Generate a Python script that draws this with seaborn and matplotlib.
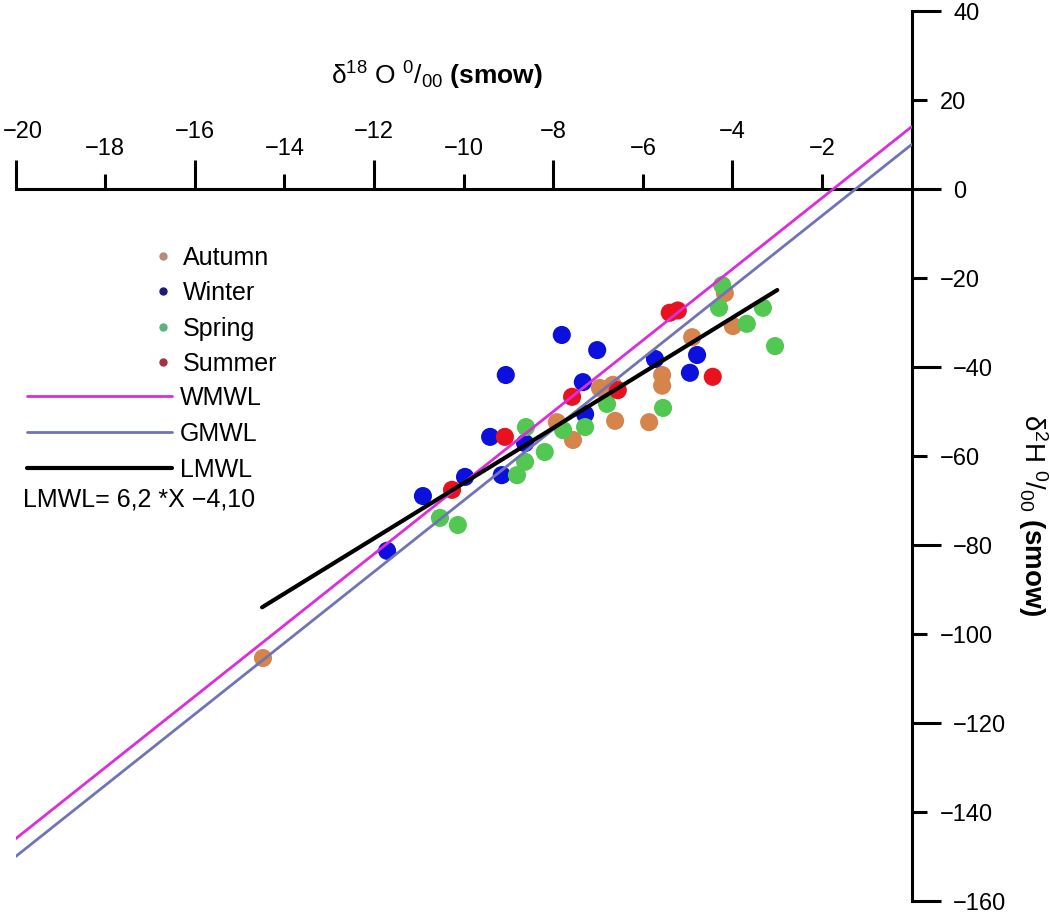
import matplotlib
matplotlib.use("Agg")
import matplotlib.pyplot as plt
from matplotlib.lines import Line2D
from matplotlib.ticker import FixedLocator, FuncFormatter
from matplotlib.transforms import ScaledTranslation
import pandas as pd
import seaborn as sns

sns.set_theme(style="white")
plt.rcParams["font.family"] = ["Liberation Sans", "DejaVu Sans"]
plt.rcParams["mathtext.fontset"] = "custom"
plt.rcParams["mathtext.rm"] = "Liberation Sans"
plt.rcParams["mathtext.it"] = "Liberation Sans:italic"
plt.rcParams["mathtext.bf"] = "Liberation Sans:bold"
for key in ["text.color", "axes.labelcolor", "xtick.color", "ytick.color"]:
    plt.rcParams[key] = "black"

# d18O / d2H values per season
autumn_x = [-4.17, -3.99, -4.90, -5.57, -5.57, -5.86, -6.96, -6.67, -6.62, -7.92, -7.56, -14.48]
autumn_y = [-23.4, -30.8, -33.3, -41.8, -44.2, -52.4, -44.7, -44.0, -52.1, -52.4, -56.4, -105.4]

winter_x = [-7.81, -7.02, -9.06, -7.34, -5.73, -4.79, -4.95, -7.29, -9.41, -9.15, -9.97, -10.91, -11.71, -8.63]
winter_y = [-32.8, -36.2, -41.8, -43.4, -38.2, -37.3, -41.3, -50.6, -55.7, -64.3, -64.7, -69.0, -81.3, -57.1]

spring_x = [-4.23, -4.30, -3.32, -3.68, -3.05, -5.55, -6.80, -7.29, -7.78, -8.61, -8.19, -8.63, -8.81, -10.53, -10.13]
spring_y = [-21.6, -26.7, -26.7, -30.3, -35.3, -49.2, -48.3, -53.5, -54.2, -53.5, -59.1, -61.3, -64.3, -73.9, -75.5]

summer_x = [-5.40, -5.22, -4.44, -6.56, -7.58, -9.08, -10.26]
summer_y = [-27.8, -27.3, -42.2, -45.2, -46.7, -55.7, -67.6]

# meteoric water lines (end points)
wmwl_x = [-20, 0]
wmwl_y = [-146, 14]
gmwl_x = [-20, 0]
gmwl_y = [-150, 10]
lmwl_x = [-14.5, -3.0]
lmwl_y = [-94.0, -22.7]

seasons = ["Autumn", "Winter", "Spring", "Summer"]
point_colors = {"Autumn": "#D5844C", "Winter": "#0C10DC", "Spring": "#52C852", "Summer": "#E8121E"}
legend_colors = {"Autumn": "#B88A78", "Winter": "#1C1C78", "Spring": "#5CB27A", "Summer": "#A83040"}

df = pd.concat([
    pd.DataFrame({"d18O": autumn_x, "d2H": autumn_y, "season": "Autumn"}),
    pd.DataFrame({"d18O": winter_x, "d2H": winter_y, "season": "Winter"}),
    pd.DataFrame({"d18O": spring_x, "d2H": spring_y, "season": "Spring"}),
    pd.DataFrame({"d18O": summer_x, "d2H": summer_y, "season": "Summer"}),
], ignore_index=True)

fig = plt.figure(figsize=(10.5, 9.13), dpi=100)
ax = fig.add_axes([0.01495, 0.01314, 0.8533, 0.9748])

sns.scatterplot(data=df, x="d18O", y="d2H", hue="season", palette=point_colors,
                s=170, edgecolor="none", legend=False, ax=ax, zorder=2)

ax.plot(wmwl_x, wmwl_y, color="#DC2CDC", lw=2.0, zorder=3)
ax.plot(gmwl_x, gmwl_y, color="#7074B6", lw=2.0, zorder=3)
ax.plot(lmwl_x, lmwl_y, color="black", lw=3.0, zorder=4)

ax.set_xlim(-20, 0)
ax.set_ylim(-160, 40)

# axes crossing at the origin: x axis along y=0, y axis on the right
for side in ["left", "bottom"]:
    ax.spines[side].set_visible(False)
ax.spines["top"].set_position(("data", 0))
for side in ["top", "right"]:
    ax.spines[side].set_linewidth(2.2)
    ax.spines[side].set_color("black")

ax.xaxis.tick_top()
ax.yaxis.tick_right()

minus = FuncFormatter(lambda v, p: f"{v:.0f}".replace("-", "\u2212"))
ax.xaxis.set_major_locator(FixedLocator([-20, -16, -12, -8, -4]))
ax.xaxis.set_minor_locator(FixedLocator([-18, -14, -10, -6, -2]))
ax.yaxis.set_major_locator(FixedLocator([-160, -120, -80, -40, 0, 40]))
ax.yaxis.set_minor_locator(FixedLocator([-140, -100, -60, -20, 20]))
for axis in [ax.xaxis, ax.yaxis]:
    axis.set_major_formatter(minus)
    axis.set_minor_formatter(minus)

ax.tick_params(axis="x", which="major", direction="out", length=21, width=2.2, pad=12, labelsize=17)
ax.tick_params(axis="x", which="minor", direction="out", length=11, width=2.2, pad=10, labelsize=17)
ax.tick_params(axis="y", which="major", direction="out", length=21, width=2.2, pad=9, labelsize=17)
ax.tick_params(axis="y", which="minor", direction="out", length=11, width=2.2, pad=9, labelsize=17)
ax.set_xlabel("")
ax.set_ylabel("")

# keep the leftmost tick label inside the canvas
first = ax.xaxis.get_major_ticks()[0].label2
first.set_transform(first.get_transform() + ScaledTranslation(5 / 72, 0, fig.dpi_scale_trans))

ax.text(0.47, 0.927, r"δ$^{18}$ O $^{0}/_{00}$ $\mathbf{(smow)}$", transform=ax.transAxes,
        ha="center", va="center", fontsize=19)
ax.text(1.135, 0.433, r"δ$^{2}$H $^{0}/_{00}$ $\mathbf{(smow)}$", transform=ax.transAxes,
        ha="center", va="center", rotation=270, fontsize=20)

season_handles = [Line2D([], [], ls="none", marker="o", markersize=5, color=legend_colors[s]) for s in seasons]
leg1 = ax.legend(season_handles, seasons, loc="upper left", bbox_to_anchor=(0.156, 0.7365),
                 frameon=False, fontsize=18, handlelength=0.6, handletextpad=0.5,
                 labelspacing=0.46, borderpad=0, borderaxespad=0)
ax.add_artist(leg1)

line_handles = [Line2D([], [], color="#DC2CDC", lw=2.0),
                Line2D([], [], color="#7074B6", lw=2.0),
                Line2D([], [], color="black", lw=3.0)]
ax.legend(line_handles, ["WMWL", "GMWL", "LMWL"], loc="upper left", bbox_to_anchor=(0.0126, 0.5792),
          frameon=False, fontsize=18, handlelength=5.8, handletextpad=0.32,
          labelspacing=0.48, borderpad=0, borderaxespad=0)

ax.text(0.008, 0.4506, "LMWL= 6,2 *X \u22124,10", transform=ax.transAxes,
        ha="left", va="center", fontsize=18)

fig.savefig("out.png", dpi=100)
